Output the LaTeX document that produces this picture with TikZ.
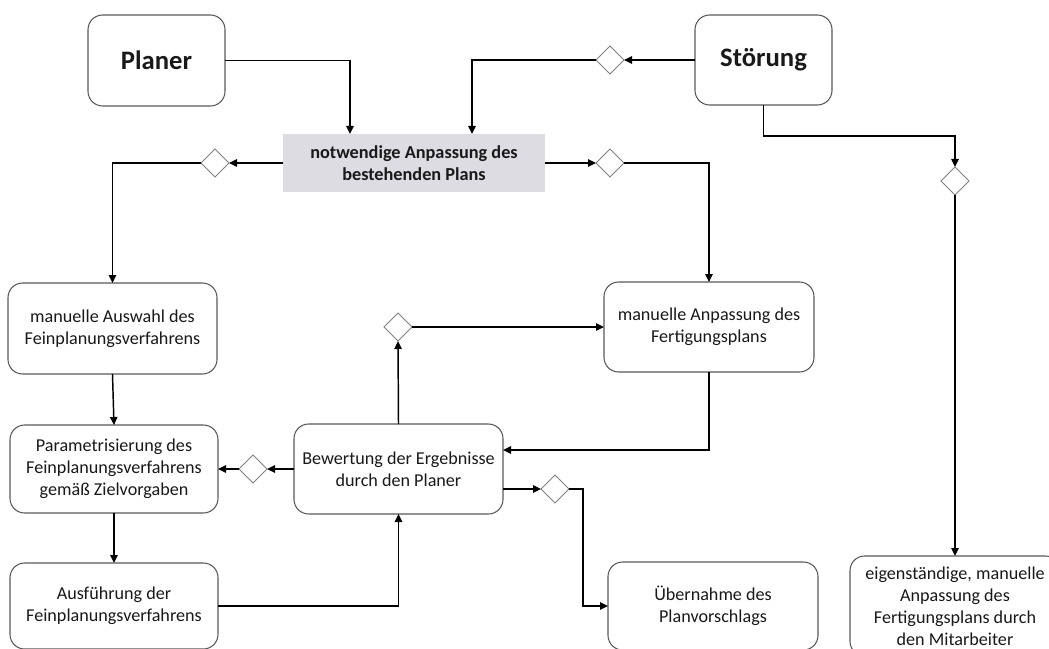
\documentclass[tikz,border=0pt]{standalone}
\usepackage{fontspec}
\setmainfont{Carlito}
\usetikzlibrary{arrows.meta,shapes.geometric}
\newcommand\pxu{0.75pt}
\begin{document}
\begin{tikzpicture}[x=0.75pt,y=-0.75pt,
  every node/.style={inner sep=0pt,outer sep=0pt},
  proc/.style={draw=black!65,line width=0.8pt,rounded corners=11pt,fill=white,
    align=center,text=black!90,font=\fontsize{13.6}{16.5}\selectfont},
  actor/.style={proc,font=\fontsize{20}{22}\selectfont\bfseries},
  issue/.style={fill=blue!10!gray!25,align=center,text=black!90,
    font=\fontsize{13.7}{16.5}\selectfont\bfseries},
  gate/.style={diamond,draw=black!50,line width=0.6pt,fill=white,
    minimum width=28*\pxu,minimum height=28*\pxu},
  flow/.style={draw=black,line width=1.1pt,-{Triangle[length=6pt,width=5.5pt]}}]
\useasboundingbox (0,0) rectangle (1049,649);
\clip (0,0) rectangle (1049,649);

% actors and the triggering issue
\node[actor,minimum width=137*\pxu,minimum height=91*\pxu] (planer) at (156.5,60.5) {Planer};
\node[actor,minimum width=137*\pxu,minimum height=90*\pxu] (stoer) at (763.5,60) {Störung};
\node[issue,minimum width=262*\pxu,minimum height=58*\pxu] (notw) at (414,163)
  {notwendige Anpassung des\\bestehenden Plans};

% process steps
\node[proc,minimum width=209*\pxu,minimum height=91*\pxu] (ausw) at (112.5,328.5)
  {manuelle Auswahl des\\Feinplanungsverfahrens};
\node[proc,minimum width=208*\pxu,minimum height=88*\pxu] (param) at (114,469)
  {Parametrisierung des\\Feinplanungsverfahrens\\gemäß Zielvorgaben};
\node[proc,minimum width=208*\pxu,minimum height=86*\pxu] (ausf) at (114,606)
  {Ausführung der\\Feinplanungsverfahrens};
\node[proc,minimum width=209*\pxu,minimum height=90*\pxu] (bew) at (398.5,469)
  {Bewertung der Ergebnisse\\durch den Planer};
\node[proc,minimum width=210*\pxu,minimum height=90*\pxu] (anp) at (709,327)
  {manuelle Anpassung des\\Fertigungsplans};
\node[proc,minimum width=210*\pxu,minimum height=88*\pxu] (ueb) at (713,606)
  {Übernahme des\\Planvorschlags};
\node[proc,minimum width=210*\pxu,minimum height=100*\pxu] (eig) at (955,606)
  {eigenständige, manuelle\\Anpassung des\\Fertigungsplans durch\\den Mitarbeiter};

% decision gates
\node[gate] (d1) at (610,60) {};
\node[gate] (d2) at (215,163) {};
\node[gate] (d3) at (610,163) {};
\node[gate] (d4) at (955,181) {};
\node[gate] (d5) at (253,469) {};
\node[gate] (d6) at (398,327) {};
\node[gate] (d7) at (555,489) {};

% connectors
\draw[flow] (planer.east) -| ([xshift=-64*\pxu]notw.north);
\draw[flow] (stoer.west) -- (d1.east);
\draw[flow] (d1.west) -| ([xshift=58*\pxu]notw.north);
\draw[flow] (notw.west) -- (d2.east);
\draw[flow] (d2.west) -| (ausw.north);
\draw[flow] (notw.east) -- (d3.west);
\draw[flow] (d3.east) -| (anp.north);
\draw[flow] (stoer.south) -- ++(0,31) -| (d4.north);
\draw[flow] (d4.south) -- (eig.north);
\draw[flow] (ausw.south) -- (param.north);
\draw[flow] (param.south) -- (ausf.north);
\draw[flow] (ausf.east) -| (bew.south);
\draw[flow] (bew.west) -- (d5.east);
\draw[flow] (d5.west) -- (param.east);
\draw[flow] (bew.north) -- (d6.south);
\draw[flow] (d6.east) -- (anp.west);
\draw[flow] (anp.south) |- ([yshift=19*\pxu]bew.east);
\draw[flow] ([yshift=-20*\pxu]bew.east) -- (d7.west);
\draw[flow] (d7.east) -- ++(14,0) |- (ueb.west);
\end{tikzpicture}
\end{document}
